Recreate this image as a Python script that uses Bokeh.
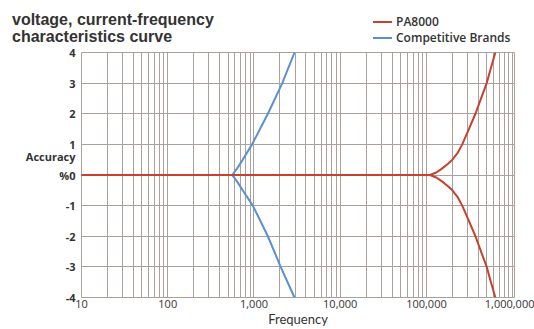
from bokeh.plotting import figure
from bokeh.models import FixedTicker, Range1d, Div
from bokeh.layouts import column
from bokeh.embed import file_html
from bokeh.resources import INLINE

# ---- data ----
pa_freq_up = [10, 110000, 130000, 150000, 175000, 200000, 230000, 260000, 300000,
              370000, 430000, 500000, 560000, 630000]
pa_val_up = [0, 0, 0.08, 0.2, 0.35, 0.5, 0.72, 1.0, 1.4, 2.0, 2.5, 3.0, 3.5, 4.0]
pa_freq_dn = [10, 110000, 130000, 150000, 175000, 200000, 230000, 260000, 300000,
              370000, 430000, 500000, 560000, 630000]
pa_val_dn = [0, 0, -0.08, -0.2, -0.35, -0.5, -0.72, -1.0, -1.4, -2.0, -2.5, -3.0,
             -3.5, -4.0]

cb_freq_up = [10, 560, 650, 740, 950, 1450, 2130, 2950]
cb_val_up = [0, 0, 0.25, 0.5, 1.0, 2.0, 3.0, 4.0]
cb_freq_dn = [10, 560, 650, 740, 970, 1450, 2040, 2950]
cb_val_dn = [0, 0, -0.25, -0.5, -1.0, -2.0, -3.0, -4.0]

x_ticks = [10, 100, 1000, 10000, 100000, 1000000]
x_labels = ["10", "100", "1,000", "10,000", "100,000", "1,000,000"]
y_ticks = [-4, -3, -2, -1, 0, 1, 2, 3, 4]
y_labels = ["-4", "-3", "-2", "-1", "%0", "1", "2", "3", "4"]
y_axis_title = "Accuracy"
title_lines = ["voltage, current-frequency", "characteristics curve"]
series_names = ["PA8000", "Competitive Brands"]
series_colors = ["#c8402f", "#5b8fd0"]

RED, BLUE = series_colors
GRID = "#aaa19d"
TXT = "#333333"
HEAD_H = 46

# ---- header: title (left) and legend (right) ----
swatch = ("display:inline-block;width:19px;height:0;border-top:2px solid {c};"
          "vertical-align:middle;margin-right:4px;position:relative;top:-1px")
legend_rows = "".join(
    '<div style="white-space:nowrap"><span style="%s"></span>%s</div>'
    % (swatch.format(c=c), n) for n, c in zip(series_names, series_colors))
header_html = (
    '<div style="position:relative;width:534px;height:%dpx;margin:0;padding:0">'
    '<div style="position:absolute;left:12px;top:11px;font-family:\'Liberation Sans\';'
    'font-weight:bold;font-size:16px;line-height:17px;color:%s;white-space:nowrap">'
    '%s<br>%s</div>'
    '<div style="position:absolute;left:373px;top:14px;font-family:\'Open Sans\';'
    'font-size:12px;font-weight:600;line-height:16px;color:%s">%s</div>'
    '</div>' % (HEAD_H, TXT, title_lines[0], title_lines[1], TXT, legend_rows))
header = Div(text=header_html, width=534, height=HEAD_H, margin=0)

# ---- main chart ----
p = figure(width=534, height=329 - HEAD_H, x_axis_type="log", output_backend="svg",
           toolbar_location=None, x_range=Range1d(10, 1.05e6),
           y_range=Range1d(-4, 4),
           min_border_left=81, min_border_right=20, min_border_top=52 - HEAD_H,
           min_border_bottom=32, margin=0)
p.background_fill_color = "white"
p.border_fill_color = "white"
p.outline_line_color = GRID

minor = [m * 10 ** e for e in range(1, 6) for m in range(2, 10)]
p.xaxis.ticker = FixedTicker(ticks=x_ticks, minor_ticks=minor)
p.xaxis.major_label_overrides = {t: l for t, l in zip(x_ticks, x_labels)}
# y axis carries the horizontal "Accuracy" caption just above the %0 label
y_over = {t: l for t, l in zip(y_ticks, y_labels)}
y_over[0.6] = y_axis_title
p.yaxis.ticker = FixedTicker(ticks=y_ticks + [0.6])
p.yaxis.major_label_overrides = y_over
p.ygrid.ticker = FixedTicker(ticks=y_ticks)

for ax in (p.xaxis[0], p.yaxis[0]):
    ax.axis_line_color = None
    ax.major_tick_line_color = None
    ax.minor_tick_line_color = None
    ax.major_tick_out = 0
    ax.major_tick_in = 0
    ax.minor_tick_out = 0
    ax.minor_tick_in = 0
    ax.major_label_text_font = "Open Sans"
    ax.major_label_text_color = TXT
    ax.major_label_text_font_size = "11px"
p.yaxis.major_label_text_font_style = "bold"
p.yaxis.major_label_standoff = 6
p.xaxis.major_label_standoff = 2
p.xaxis.axis_label = "Frequency"
p.xaxis.axis_label_text_font = "Lato"
p.xaxis.axis_label_text_font_style = "normal"
p.xaxis.axis_label_text_font_size = "13px"
p.xaxis.axis_label_text_color = TXT
p.xaxis.axis_label_standoff = 0

p.xgrid.grid_line_color = GRID
p.xgrid.minor_grid_line_color = GRID
p.ygrid.grid_line_color = GRID

p.line(cb_freq_up, cb_val_up, line_color=BLUE, line_width=2)
p.line(cb_freq_dn, cb_val_dn, line_color=BLUE, line_width=2)
p.line(pa_freq_up, pa_val_up, line_color=RED, line_width=2)
p.line(pa_freq_dn, pa_val_dn, line_color=RED, line_width=2)

layout = column(header, p, spacing=0)
open("out.html", "w").write(file_html(layout, INLINE))
